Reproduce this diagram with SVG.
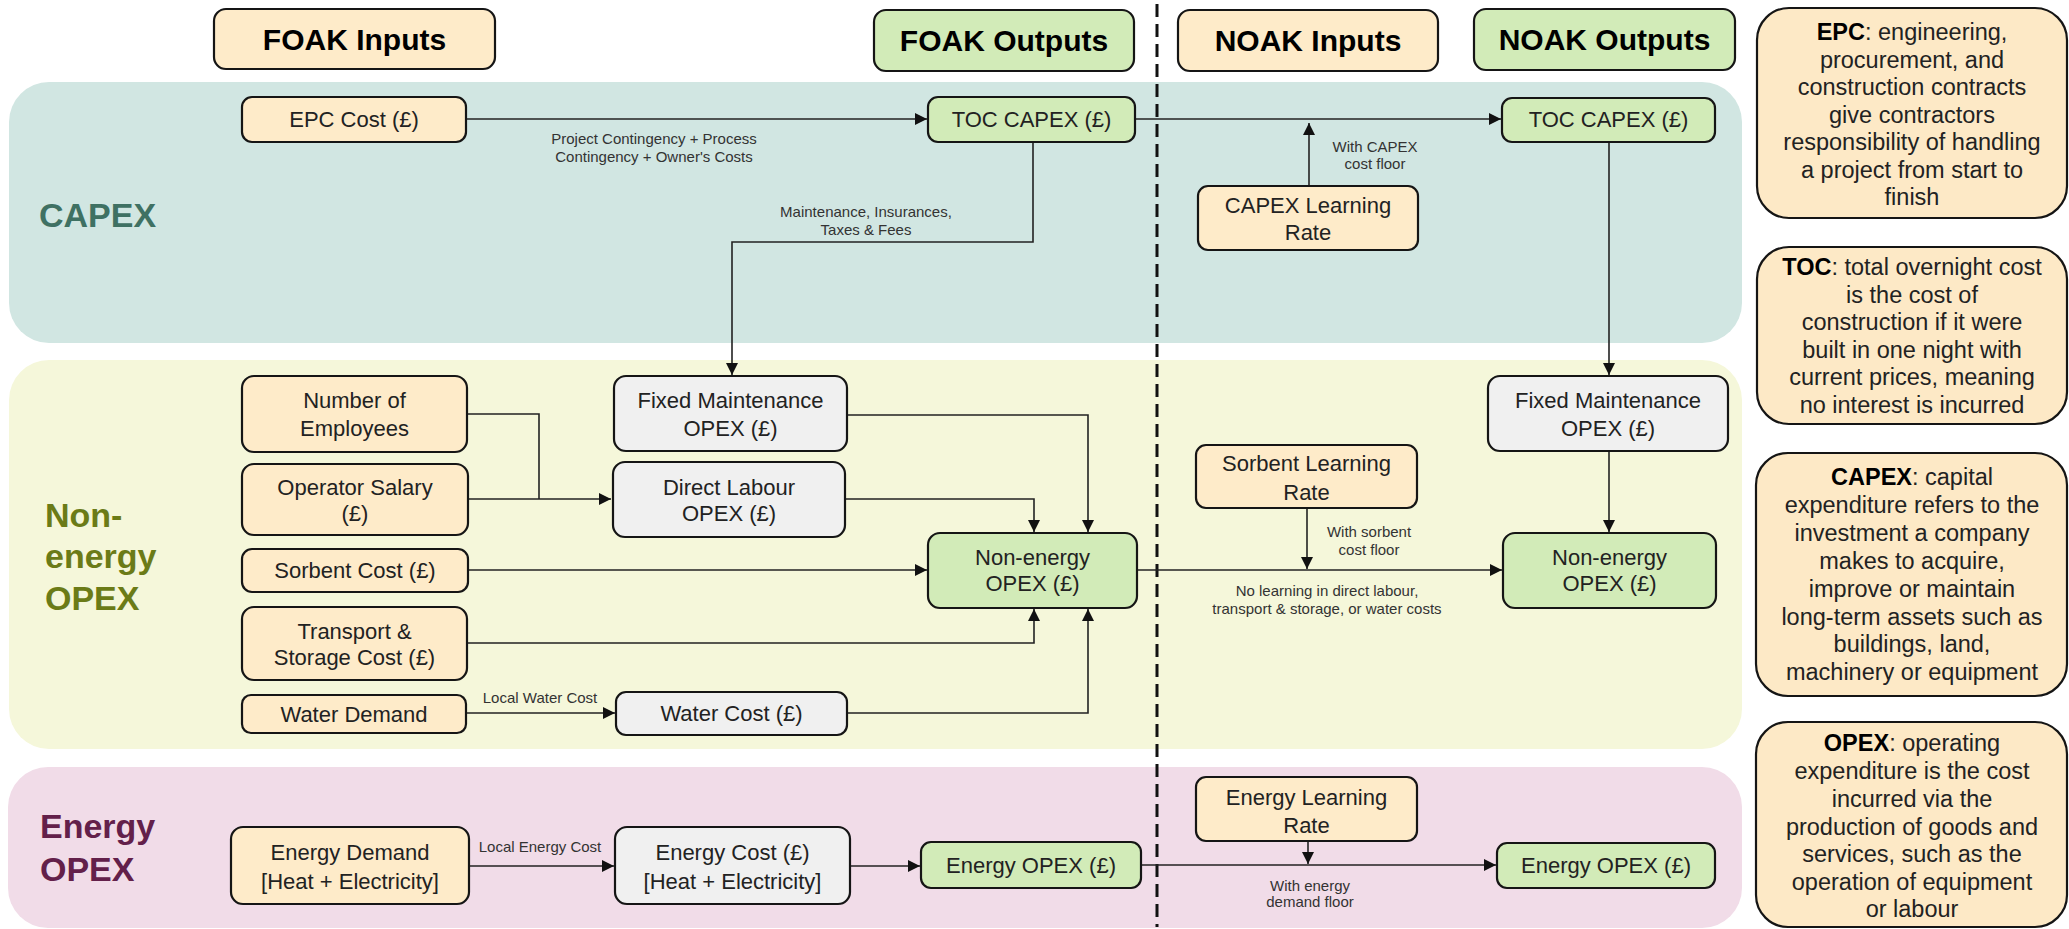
<svg xmlns="http://www.w3.org/2000/svg" width="2069" height="929" viewBox="0 0 2069 929">
<defs>
<marker id="arr" viewBox="0 0 12 12" refX="12" refY="6" markerWidth="12" markerHeight="12" markerUnits="userSpaceOnUse" orient="auto">
<path d="M0,0 L12,6 L0,12 z" fill="#111"/>
</marker>
<style>
.band{stroke:none}
.box{stroke:#151515;stroke-width:2.2}
.in{fill:#feebc9}
.out{fill:#d2ebb8}
.mid{fill:#f0f0f0}
.note{fill:#fde9c6;stroke:#151515;stroke-width:2.2}
.t{font-family:"Liberation Sans",Arial,sans-serif;font-size:22px;fill:#222;text-anchor:middle}
.h{font-family:"Liberation Sans",Arial,sans-serif;font-size:30px;font-weight:bold;fill:#000;text-anchor:middle}
.s{font-family:"Liberation Sans",Arial,sans-serif;font-size:15px;fill:#333;text-anchor:middle}
.n{font-family:"Liberation Sans",Arial,sans-serif;font-size:23.5px;fill:#222;text-anchor:middle}
.b{font-weight:bold;fill:#000}
.bl{font-family:"Liberation Sans",Arial,sans-serif;font-size:34px;font-weight:bold}
.c{fill:none;stroke:#222;stroke-width:1.6}
.ca{fill:none;stroke:#222;stroke-width:1.6;marker-end:url(#arr)}
</style>
</defs>

<g id="bands">
<rect class="band" x="9" y="82" width="1733" height="261" rx="40" fill="#d1e6e2"/>
<rect class="band" x="9" y="360" width="1733" height="389" rx="40" fill="#f5f7da"/>
<rect class="band" x="8" y="767" width="1734" height="161" rx="40" fill="#f1dce8"/>
<text class="bl" x="39" y="227" fill="#3f7163">CAPEX</text>
<text class="bl" x="45" y="527" fill="#6b7b17">Non-</text>
<text class="bl" x="45" y="568" fill="#6b7b17">energy</text>
<text class="bl" x="45" y="610" fill="#6b7b17">OPEX</text>
<text class="bl" x="40" y="838" fill="#63204a">Energy</text>
<text class="bl" x="40" y="881" fill="#63204a">OPEX</text>
</g>

<line x1="1157" y1="4" x2="1157" y2="927" stroke="#111" stroke-width="3" stroke-dasharray="13 7"/>

<g id="connectors">
<path class="ca" d="M466,119 H927"/>
<path class="ca" d="M1135,119 H1501"/>
<path class="ca" d="M1309,186 V123"/>
<path class="ca" d="M1033,142 V242 H732 V375"/>
<path class="ca" d="M1609,142 V375"/>
<path class="ca" d="M1609,451 V532"/>
<path class="c" d="M467,414 H539 V499"/>
<path class="ca" d="M468,499 H611"/>
<path class="ca" d="M847,415 H1088 V532"/>
<path class="ca" d="M845,499 H1034 V532"/>
<path class="ca" d="M468,570 H927"/>
<path class="ca" d="M467,643 H1034 V609"/>
<path class="ca" d="M466,713 H615"/>
<path class="ca" d="M847,713 H1088 V609"/>
<path class="ca" d="M1137,570 H1502"/>
<path class="ca" d="M1307,508 V569"/>
<path class="ca" d="M469,866 H614"/>
<path class="ca" d="M850,866 H920"/>
<path class="ca" d="M1141,865 H1496"/>
<path class="ca" d="M1308,841 V864"/>
<text class="s" x="654" y="144">Project Contingency + Process</text>
<text class="s" x="654" y="162">Contingency + Owner's Costs</text>
<text class="s" x="866" y="217">Maintenance, Insurances,</text>
<text class="s" x="866" y="235">Taxes &amp; Fees</text>
<text class="s" x="1375" y="152">With CAPEX</text>
<text class="s" x="1375" y="169">cost floor</text>
<text class="s" x="1369" y="537">With sorbent</text>
<text class="s" x="1369" y="555">cost floor</text>
<text class="s" x="1327" y="596">No learning in direct labour,</text>
<text class="s" x="1327" y="614">transport &amp; storage, or water costs</text>
<text class="s" x="540" y="703">Local Water Cost</text>
<text class="s" x="540" y="852">Local Energy Cost</text>
<text class="s" x="1310" y="891">With energy</text>
<text class="s" x="1310" y="907">demand floor</text>
</g>

<g id="h-foak-inputs"><rect class="box in" x="214" y="9" width="281" height="60" rx="12"/><text class="h" x="354.5" y="50">FOAK Inputs</text></g>
<g id="h-foak-outputs"><rect class="box out" x="874" y="10" width="260" height="61" rx="12"/><text class="h" x="1004" y="51">FOAK Outputs</text></g>
<g id="h-noak-inputs"><rect class="box in" x="1178" y="10" width="260" height="61" rx="12"/><text class="h" x="1308" y="51">NOAK Inputs</text></g>
<g id="h-noak-outputs"><rect class="box out" x="1474" y="9" width="261" height="61" rx="12"/><text class="h" x="1604.5" y="50">NOAK Outputs</text></g>

<g id="epc-cost"><rect class="box in" x="242" y="97" width="224" height="45" rx="10"/><text class="t" x="354" y="127">EPC Cost (£)</text></g>
<g id="toc-foak"><rect class="box out" x="928" y="97" width="207" height="45" rx="10"/><text class="t" x="1031.5" y="127">TOC CAPEX (£)</text></g>
<g id="toc-noak"><rect class="box out" x="1502" y="98" width="213" height="44" rx="10"/><text class="t" x="1608.5" y="127">TOC CAPEX (£)</text></g>
<g id="capex-lr"><rect class="box in" x="1198" y="186" width="220" height="64" rx="10"/><text class="t" x="1308" y="213">CAPEX Learning</text><text class="t" x="1308" y="240">Rate</text></g>

<g id="num-employees"><rect class="box in" x="242" y="376" width="225" height="76" rx="12"/><text class="t" x="354.5" y="408">Number of</text><text class="t" x="354.5" y="436">Employees</text></g>
<g id="operator-salary"><rect class="box in" x="242" y="464" width="226" height="71" rx="12"/><text class="t" x="355" y="495">Operator Salary</text><text class="t" x="355" y="521">(£)</text></g>
<g id="sorbent-cost"><rect class="box in" x="242" y="549" width="226" height="43" rx="10"/><text class="t" x="355" y="578">Sorbent Cost (£)</text></g>
<g id="transport"><rect class="box in" x="242" y="607" width="225" height="73" rx="12"/><text class="t" x="354.5" y="639">Transport &amp;</text><text class="t" x="354.5" y="665">Storage Cost (£)</text></g>
<g id="water-demand"><rect class="box in" x="242" y="695" width="224" height="38" rx="9"/><text class="t" x="354" y="722">Water Demand</text></g>
<g id="fixed-maint-foak"><rect class="box mid" x="614" y="376" width="233" height="75" rx="12"/><text class="t" x="730.5" y="408">Fixed Maintenance</text><text class="t" x="730.5" y="436">OPEX (£)</text></g>
<g id="direct-labour"><rect class="box mid" x="613" y="462" width="232" height="75" rx="12"/><text class="t" x="729" y="495">Direct Labour</text><text class="t" x="729" y="521">OPEX (£)</text></g>
<g id="water-cost"><rect class="box mid" x="616" y="692" width="231" height="43" rx="10"/><text class="t" x="731.5" y="721">Water Cost (£)</text></g>
<g id="nonenergy-foak"><rect class="box out" x="928" y="533" width="209" height="75" rx="12"/><text class="t" x="1032.5" y="565">Non-energy</text><text class="t" x="1032.5" y="591">OPEX (£)</text></g>
<g id="sorbent-lr"><rect class="box in" x="1196" y="445" width="221" height="63" rx="10"/><text class="t" x="1306.5" y="471">Sorbent Learning</text><text class="t" x="1306.5" y="500">Rate</text></g>
<g id="fixed-maint-noak"><rect class="box mid" x="1488" y="376" width="240" height="75" rx="12"/><text class="t" x="1608" y="408">Fixed Maintenance</text><text class="t" x="1608" y="436">OPEX (£)</text></g>
<g id="nonenergy-noak"><rect class="box out" x="1503" y="533" width="213" height="75" rx="12"/><text class="t" x="1609.5" y="565">Non-energy</text><text class="t" x="1609.5" y="591">OPEX (£)</text></g>

<g id="energy-demand"><rect class="box in" x="231" y="827" width="238" height="77" rx="12"/><text class="t" x="350" y="860">Energy Demand</text><text class="t" x="350" y="889">[Heat + Electricity]</text></g>
<g id="energy-cost"><rect class="box mid" x="615" y="827" width="235" height="77" rx="12"/><text class="t" x="732.5" y="860">Energy Cost (£)</text><text class="t" x="732.5" y="889">[Heat + Electricity]</text></g>
<g id="energy-opex-foak"><rect class="box out" x="921" y="842" width="220" height="46" rx="10"/><text class="t" x="1031" y="873">Energy OPEX (£)</text></g>
<g id="energy-lr"><rect class="box in" x="1196" y="777" width="221" height="64" rx="10"/><text class="t" x="1306.5" y="805">Energy Learning</text><text class="t" x="1306.5" y="833">Rate</text></g>
<g id="energy-opex-noak"><rect class="box out" x="1497" y="843" width="218" height="45" rx="10"/><text class="t" x="1606" y="873">Energy OPEX (£)</text></g>

<g id="note-epc"><rect class="note" x="1757" y="8" width="310" height="210" rx="32"/>
<text class="n" x="1912" y="40"><tspan class="b">EPC</tspan>: engineering,</text>
<text class="n" x="1912" y="67.5">procurement, and</text>
<text class="n" x="1912" y="95">construction contracts</text>
<text class="n" x="1912" y="122.5">give contractors</text>
<text class="n" x="1912" y="150">responsibility of handling</text>
<text class="n" x="1912" y="177.5">a project from start to</text>
<text class="n" x="1912" y="205">finish</text></g>

<g id="note-toc"><rect class="note" x="1757" y="247" width="310" height="177" rx="32"/>
<text class="n" x="1912" y="275"><tspan class="b">TOC</tspan>: total overnight cost</text>
<text class="n" x="1912" y="302.5">is the cost of</text>
<text class="n" x="1912" y="330">construction if it were</text>
<text class="n" x="1912" y="357.5">built in one night with</text>
<text class="n" x="1912" y="385">current prices, meaning</text>
<text class="n" x="1912" y="412.5">no interest is incurred</text></g>

<g id="note-capex"><rect class="note" x="1756" y="453" width="311" height="243" rx="32"/>
<text class="n" x="1912" y="485"><tspan class="b">CAPEX</tspan>: capital</text>
<text class="n" x="1912" y="513">expenditure refers to the</text>
<text class="n" x="1912" y="541">investment a company</text>
<text class="n" x="1912" y="569">makes to acquire,</text>
<text class="n" x="1912" y="597">improve or maintain</text>
<text class="n" x="1912" y="625">long-term assets such as</text>
<text class="n" x="1912" y="652">buildings, land,</text>
<text class="n" x="1912" y="680">machinery or equipment</text></g>

<g id="note-opex"><rect class="note" x="1756" y="722" width="311" height="205" rx="32"/>
<text class="n" x="1912" y="751"><tspan class="b">OPEX</tspan>: operating</text>
<text class="n" x="1912" y="779">expenditure is the cost</text>
<text class="n" x="1912" y="807">incurred via the</text>
<text class="n" x="1912" y="835">production of goods and</text>
<text class="n" x="1912" y="862">services, such as the</text>
<text class="n" x="1912" y="890">operation of equipment</text>
<text class="n" x="1912" y="917">or labour</text></g>
</svg>
